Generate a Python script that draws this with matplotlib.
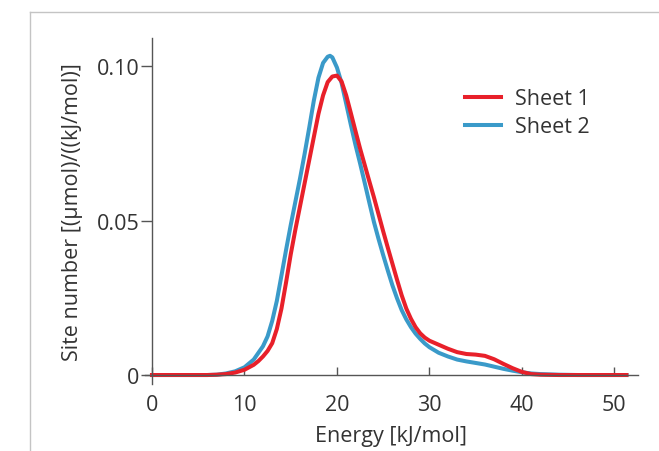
import matplotlib.pyplot as plt
from matplotlib.lines import Line2D

# Values
energy_1 = [0, 6, 7, 8, 9, 10, 11, 11.5, 12, 12.5, 13, 13.5, 14, 14.5, 15, 15.5, 16, 16.5, 17,
            17.5, 18, 18.5, 19, 19.5, 20, 20.5, 21, 21.5, 22, 22.5, 23, 23.5, 24, 24.5, 25, 25.5,
            26, 26.5, 27, 27.5, 28, 28.5, 29, 29.5, 30, 31, 32, 33, 34, 35, 36, 37, 38, 39, 40,
            41, 42, 44, 51.3]
sheet_1 = [0, 0, 0.0001, 0.0003, 0.0008, 0.0017, 0.0033, 0.0045, 0.0060, 0.0078, 0.0103, 0.0149,
           0.0215, 0.0300, 0.0390, 0.0470, 0.0545, 0.0620, 0.0695, 0.0770, 0.0845, 0.0905, 0.0948,
           0.0966, 0.0969, 0.0950, 0.0905, 0.0848, 0.0790, 0.0733, 0.0680, 0.0627, 0.0575, 0.0520,
           0.0465, 0.0412, 0.0360, 0.0308, 0.0258, 0.0215, 0.0182, 0.0155, 0.0135, 0.0121, 0.0111,
           0.0098, 0.0085, 0.0074, 0.0068, 0.0066, 0.0062, 0.0051, 0.0036, 0.0022, 0.0010, 0.0003,
           0.0001, 0, 0]

energy_2 = [0, 6, 7, 8, 9, 10, 11, 12, 12.5, 13, 13.5, 14, 14.5, 15, 15.5, 16, 16.5, 17, 17.5,
            18, 18.5, 19, 19.25, 19.5, 20, 20.5, 21, 21.5, 22, 22.5, 23, 23.5, 24, 24.5, 25, 25.5,
            26, 26.5, 27, 27.5, 28, 28.5, 29, 29.5, 30, 31, 32, 33, 34, 35, 36, 37, 38, 39, 40,
            41, 42, 44, 46, 51.3]
sheet_2 = [0, 0, 0.0001, 0.0005, 0.0012, 0.0025, 0.0050, 0.0093, 0.0125, 0.0175, 0.0240, 0.0322,
           0.0405, 0.0485, 0.0560, 0.0635, 0.0715, 0.0800, 0.0888, 0.0962, 0.1010, 0.1030, 0.1033,
           0.1028, 0.0995, 0.0945, 0.0878, 0.0810, 0.0745, 0.0685, 0.0622, 0.0558, 0.0495, 0.0440,
           0.0388, 0.0338, 0.0290, 0.0248, 0.0210, 0.0180, 0.0155, 0.0134, 0.0117, 0.0102, 0.0090,
           0.0072, 0.0060, 0.0050, 0.0044, 0.0039, 0.0034, 0.0027, 0.0020, 0.0014, 0.0009, 0.0005,
           0.0003, 0.0001, 0, 0]

x_ticks = [0, 10, 20, 30, 40, 50]
y_ticks = [0, 0.05, 0.10]
y_tick_labels = ['0', '0.05', '0.10']

plt.rcParams['font.family'] = ['Open Sans', 'DejaVu Sans']
text_color = '#333333'
fs = 15.5

fig = plt.figure(figsize=(6.59, 4.52), dpi=100)

# light frame around the panel
fig.add_artist(Line2D([30 / 659, 30 / 659], [-0.1, 1 - 13 / 452], transform=fig.transFigure,
                      color='#c4c4c4', lw=1))
fig.add_artist(Line2D([30 / 659, 1.1], [1 - 13 / 452, 1 - 13 / 452], transform=fig.transFigure,
                      color='#c4c4c4', lw=1))

ax = fig.add_axes([0.2194, 0.1476, 0.748, 0.7657])

ax.plot(energy_2, sheet_2, color='#3a9ac9', lw=2.9, label='Sheet 2')
ax.plot(energy_1, sheet_1, color='#e8202a', lw=2.9, label='Sheet 1')

ax.set_xlim(-0.8, 52.5)
ax.set_ylim(-0.003, 0.109)

for side in ['top', 'right']:
    ax.spines[side].set_visible(False)
ax.spines['bottom'].set_position(('data', 0))
ax.spines['left'].set_position(('data', 0))
for side in ['bottom', 'left']:
    ax.spines[side].set_color('#555555')
    ax.spines[side].set_linewidth(1)

ax.set_xticks(x_ticks)
ax.set_yticks(y_ticks)
ax.set_yticklabels(y_tick_labels)
ax.tick_params(axis='x', direction='in', length=6, width=1, color='#555555',
               labelsize=fs, labelcolor=text_color, pad=14)
ax.tick_params(axis='y', direction='out', length=8, width=1, color='#555555',
               labelsize=fs, labelcolor=text_color, pad=1)

ax.set_xlabel('Energy [kJ/mol]', fontsize=fs, color=text_color, labelpad=7)
ax.set_ylabel('Site number [(μmol)/((kJ/mol)]', fontsize=fs, color=text_color, labelpad=10)

handles, labels = ax.get_legend_handles_labels()
leg = ax.legend(handles[::-1], labels[::-1], loc='upper left', bbox_to_anchor=(0.65, 0.855),
                frameon=False, fontsize=fs, handlelength=1.67, handletextpad=0.65,
                labelspacing=0.32, borderaxespad=0, borderpad=0)
for txt in leg.get_texts():
    txt.set_color(text_color)

plt.savefig('out.png', dpi=100)
